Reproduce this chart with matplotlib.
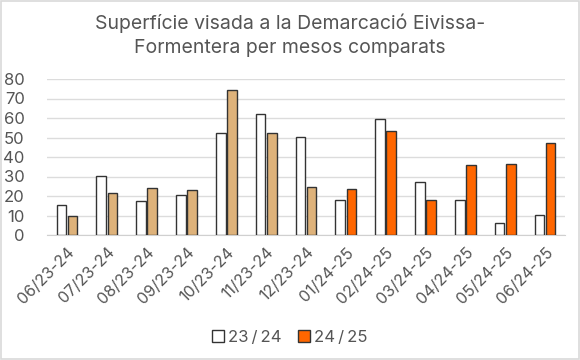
import matplotlib
matplotlib.use("Agg")
import matplotlib.pyplot as plt
import numpy as np
from matplotlib.patches import Patch

plt.rcParams['font.family'] = ['Inter', 'DejaVu Sans']

categories = ["06/23-24", "07/23-24", "08/23-24", "09/23-24", "10/23-24", "11/23-24",
              "12/23-24", "01/24-25", "02/24-25", "03/24-25", "04/24-25", "05/24-25", "06/24-25"]
s2324 = [15.5, 30.3, 17.2, 20.5, 52.5, 61.8, 50.2, 18.2, 59.5, 27.0, 18.2, 6.4, 10.1]
s2425 = [10.0, 21.5, 23.9, 23.0, 74.5, 52.3, 24.4, 23.6, 53.2, 17.9, 36.0, 36.5, 47.3]
series_names = ["23\u2009/\u200924", "24\u2009/\u200925"]
title = "Superfície visada a la Demarcació Eivissa-\nFormentera per mesos comparats"

tan = "#DEB27A"
orange = "#FF6600"
colors2 = [tan if c.endswith("23-24") else orange for c in categories]

fig = plt.figure(figsize=(5.8, 3.6), dpi=100)
ax = fig.add_axes([47/580, 1 - 235/360, (565-47)/580, (235-79)/360])

x = np.arange(len(categories))
w = 0.24
ax.bar(x - 0.14, s2324, w, color="white", edgecolor="#333333", linewidth=1.0, zorder=3)
ax.bar(x + 0.14, s2425, w, color=colors2, edgecolor="#333333", linewidth=1.0, zorder=3)

ax.set_xlim(-0.5, len(categories) - 0.5)
ax.set_ylim(0, 80)
ax.set_yticks(range(0, 81, 10))
ax.yaxis.grid(True, color="#dcdcdc", linewidth=1.0, zorder=0)
ax.set_axisbelow(True)
for s in ["top", "right", "left"]:
    ax.spines[s].set_visible(False)
ax.spines["bottom"].set_color("#d0d0d0")
ax.tick_params(axis="y", length=0, labelsize=12, labelcolor="#555555", pad=16)
ax.tick_params(axis="x", length=0, labelsize=11.5, labelcolor="#555555", pad=7)
ax.set_xticks(x)
ax.set_xticklabels(categories, rotation=45, ha="right", rotation_mode="anchor")

fig.text(0.5, 1 - 35/360, title, ha="center", va="center", fontsize=14,
         color="#555555", linespacing=1.45)

handles = [Patch(facecolor="white", edgecolor="#333333", label=series_names[0]),
           Patch(facecolor=orange, edgecolor="#333333", label=series_names[1])]
fig.legend(handles=handles, loc="center", bbox_to_anchor=(0.5, 1 - 337/360), ncol=2,
           frameon=False, fontsize=12, labelcolor="#555555", handlelength=0.7,
           handleheight=0.7, handletextpad=0.25, columnspacing=1.0)

border = plt.Rectangle((0.002, 0.003), 0.996, 0.994, transform=fig.transFigure,
                       fill=False, edgecolor="#d9d9d9", linewidth=1.2)
fig.patches.append(border)

fig.savefig("out.png", dpi=100)
